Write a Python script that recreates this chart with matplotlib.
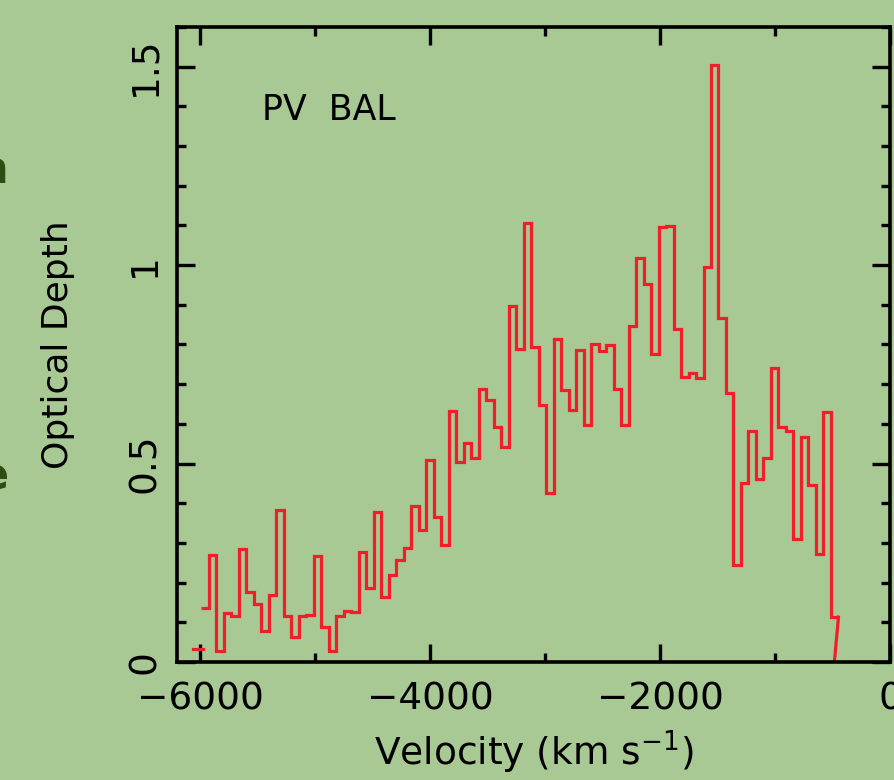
import numpy as np
import matplotlib
matplotlib.use("Agg")
import matplotlib.pyplot as plt
from matplotlib.ticker import MultipleLocator, FixedLocator, FixedFormatter

# binned PV optical depth profile (bins of ~65 km/s)
v_start = -5990.0
bin_width = 65.2
tau = [0.135, 0.269, 0.028, 0.123, 0.116, 0.284, 0.177, 0.145, 0.078, 0.170,
       0.382, 0.116, 0.063, 0.117, 0.118, 0.267, 0.089, 0.028, 0.115, 0.128,
       0.125, 0.277, 0.187, 0.378, 0.165, 0.219, 0.256, 0.288, 0.393, 0.332,
       0.510, 0.366, 0.295, 0.633, 0.503, 0.551, 0.514, 0.687, 0.660, 0.592,
       0.542, 0.897, 0.788, 1.107, 0.794, 0.647, 0.427, 0.815, 0.685, 0.634,
       0.786, 0.597, 0.800, 0.784, 0.798, 0.687, 0.597, 0.846, 1.018, 0.952,
       0.777, 1.097, 1.098, 0.840, 0.718, 0.728, 0.716, 0.994, 1.504, 0.866,
       0.677, 0.245, 0.452, 0.582, 0.460, 0.515, 0.742, 0.592, 0.582, 0.311,
       0.567, 0.445, 0.271, 0.630, 0.113]

# stray pieces of the trace at both ends
lead_v = [-6061, -5974]
lead_tau = [0.033, 0.033]
tail_v = -515
tail_tau = -0.1

ytick_vals = [0, 0.5, 1, 1.5]
ytick_labels = ["0", "0.5", "1", "1.5"]

bg = "#a8c894"
red = "#f01e28"


def main():
    edges = v_start + bin_width * np.arange(len(tau) + 1)

    fig = plt.figure(figsize=(8.94, 7.80), dpi=100, facecolor=bg)
    ax = fig.add_axes([0.198, 0.1513, 0.7975, 0.8141], facecolor=bg)

    ax.stairs(tau, edges, baseline=None, color=red, lw=2.3)
    ax.plot([edges[-1], tail_v], [tau[-1], tail_tau], color=red, lw=2.3)
    ax.plot(lead_v, lead_tau, color=red, lw=2.3)

    ax.set_xlim(-6200, 0)
    ax.set_ylim(0, 1.6)

    ax.xaxis.set_major_locator(MultipleLocator(2000))
    ax.xaxis.set_minor_locator(MultipleLocator(1000))
    ax.yaxis.set_major_locator(FixedLocator(ytick_vals))
    ax.yaxis.set_major_formatter(FixedFormatter(ytick_labels))
    ax.yaxis.set_minor_locator(MultipleLocator(0.1))

    ax.tick_params(which="both", direction="in", top=True, right=True,
                   width=2.4, color="black")
    ax.tick_params(which="major", length=13)
    ax.tick_params(which="minor", length=6.5)
    ax.tick_params(axis="x", which="major", labelsize=27, pad=14)
    ax.tick_params(axis="y", which="major", labelsize=27, pad=10)
    for lab in ax.get_yticklabels():
        lab.set_rotation(90)
        lab.set_va("center")

    for sp in ax.spines.values():
        sp.set_linewidth(2.6)

    ax.set_xlabel(r"Velocity (km s$^{-1}$)", fontsize=27)
    ax.set_ylabel("Optical Depth", fontsize=26)
    ax.xaxis.set_label_coords(0.5, -0.104)
    ax.yaxis.set_label_coords(-0.143, 0.5)

    ax.text(0.119, 0.854, "PV  BAL", transform=ax.transAxes,
            fontsize=25, va="baseline", ha="left")

    # clipped letters from the slide text behind the chart
    fig.text(0.009, 1 - 183 / 780, "n", fontsize=32, fontweight="bold",
             color="#2d4d14", ha="right", va="baseline")
    fig.text(0.009, 1 - 490 / 780, "e", fontsize=32, fontweight="bold",
             color="#2d4d14", ha="right", va="baseline")

    fig.savefig("out.png", dpi=100, facecolor=bg)


if __name__ == "__main__":
    main()
